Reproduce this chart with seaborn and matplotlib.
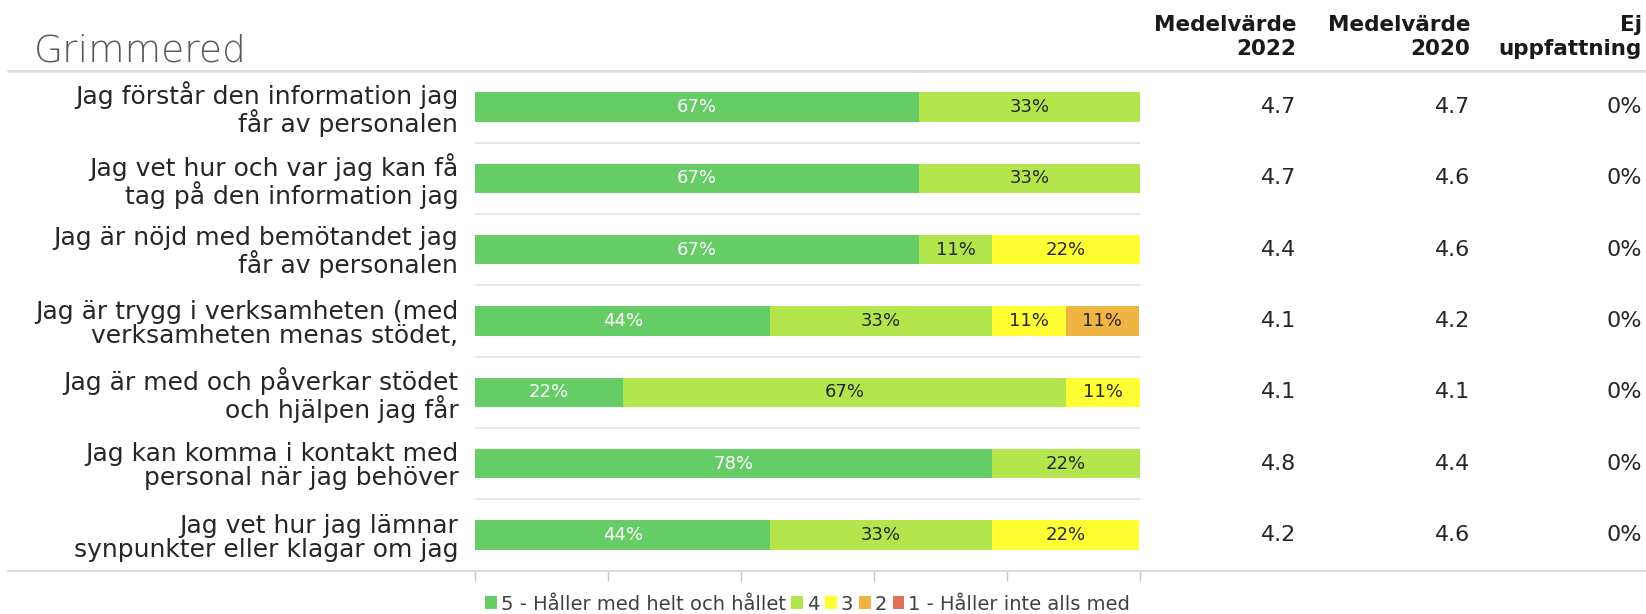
import matplotlib
matplotlib.use("Agg")
import matplotlib.pyplot as plt
import matplotlib.transforms as mtransforms
from matplotlib.lines import Line2D
from matplotlib.patches import Patch
import seaborn as sns
import pandas as pd

# ---------------- data ----------------
title = "Grimmered"
questions = [
    "Jag förstår den information jag\nfår av personalen",
    "Jag vet hur och var jag kan få\ntag på den information jag",
    "Jag är nöjd med bemötandet jag\nfår av personalen",
    "Jag är trygg i verksamheten (med\nverksamheten menas stödet,",
    "Jag är med och påverkar stödet\noch hjälpen jag får",
    "Jag kan komma i kontakt med\npersonal när jag behöver",
    "Jag vet hur jag lämnar\nsynpunkter eller klagar om jag",
]
series_names = ["5 - Håller med helt och hållet", "4", "3", "2", "1 - Håller inte alls med"]
s5 = [66.7, 66.7, 66.7, 44.4, 22.2, 77.8, 44.4]
s4 = [33.3, 33.3, 11.1, 33.3, 66.7, 22.2, 33.3]
s3 = [0.0, 0.0, 22.2, 11.1, 11.1, 0.0, 22.2]
s2 = [0.0, 0.0, 0.0, 11.1, 0.0, 0.0, 0.0]
s1 = [0.0, 0.0, 0.0, 0.0, 0.0, 0.0, 0.0]
mean_2022 = [4.7, 4.7, 4.4, 4.1, 4.1, 4.8, 4.2]
mean_2020 = [4.7, 4.6, 4.6, 4.2, 4.1, 4.4, 4.6]
no_opinion = [0, 0, 0, 0, 0, 0, 0]
col_headers = ["Medelvärde\n2022", "Medelvärde\n2020", "Ej\nuppfattning"]
x_ticks = [0, 20, 40, 60, 80, 100]

# ---------------- style ----------------
colors = ["#66CC66", "#B3E64D", "#FFFF33", "#F0B443", "#E0705A"]
label_colors = ["white", "#262626", "#262626", "#262626", "#262626"]
TXT = "#262626"

sns.set_theme(style="white")
plt.rcParams["font.family"] = ["DejaVu Sans"]

W, H = 1646, 614
fig = plt.figure(figsize=(W / 100, H / 100), dpi=100)
ax_left, ax_right = 475 / W, 1140 / W
ax_top, ax_bot = 71.3 / H, 570.7 / H
ax = fig.add_axes([ax_left, 1 - ax_bot, ax_right - ax_left, ax_bot - ax_top])

series = [s5, s4, s3, s2, s1]
df = pd.DataFrame({"question": questions})
for name, vals in zip(series_names, series):
    df[name] = vals
cum = df[series_names].cumsum(axis=1)

# draw cumulative bars from the longest to the shortest (stacked look)
for k in range(len(series_names) - 1, -1, -1):
    sns.barplot(data=cum.assign(question=questions), x=series_names[k], y="question",
                order=questions, orient="h", color=colors[k], saturation=1,
                width=0.41, linewidth=0, ax=ax)

# value labels inside the segments
for k, name in enumerate(series_names):
    for i, q in enumerate(questions):
        v = df.loc[i, name]
        if v > 0:
            start = cum.loc[i, name] - v
            ax.text(start + v / 2, i, f"{round(v)}%", ha="center", va="center",
                    fontsize=13, color=label_colors[k])

ax.set_xlim(0, 100)
ax.set_ylim(len(questions) - 0.5, -0.5)
ax.set_xlabel("")
ax.set_ylabel("")
ax.set_xticks(x_ticks)
ax.set_xticklabels([])
ax.tick_params(axis="x", bottom=True, length=7, width=1, color="#c8c8c8", direction="out")
ax.tick_params(axis="y", left=False, length=0, pad=12, labelsize=18, labelcolor=TXT)
for lab in ax.get_yticklabels():
    lab.set_linespacing(1.0)
for sp in ["top", "right", "left", "bottom"]:
    ax.spines[sp].set_visible(False)

# separators between rows
for i in range(len(questions) - 1):
    ax.axhline(i + 0.5, color="#e3e3e3", lw=1.2, zorder=0)

# full-width header and bottom lines
fig.add_artist(Line2D([8 / W, 1], [1 - 71.3 / H] * 2, transform=fig.transFigure,
                      color="#dcdcdc", lw=2))
fig.add_artist(Line2D([8 / W, 1], [1 - 570.7 / H] * 2, transform=fig.transFigure,
                      color="#dcdcdc", lw=1.5))

# title
fig.text(34 / W, 1 - 62 / H, title, fontsize=27, color="#595959",
         fontweight="light", ha="left", va="baseline")

# right-hand columns
col_x = [1296 / W, 1470 / W, 1642 / W]
trans = mtransforms.blended_transform_factory(fig.transFigure, ax.transData)
col_vals = [[f"{v:.1f}" for v in mean_2022], [f"{v:.1f}" for v in mean_2020],
            [f"{v}%" for v in no_opinion]]
for x, hdr, vals in zip(col_x, col_headers, col_vals):
    fig.text(x, 1 - 37 / H, hdr, ha="right", va="center", fontsize=15.5,
             fontweight="bold", color="#1a1a1a", linespacing=1.3)
    for i, t in enumerate(vals):
        ax.text(x, i, t, transform=trans, ha="right", va="center",
                fontsize=16, color=TXT, clip_on=False)

# legend
handles = [Patch(facecolor=c, edgecolor="none") for c in colors]
fig.legend(handles, series_names, loc="center", ncol=5,
           bbox_to_anchor=((ax_left + ax_right) / 2, 1 - 604 / H),
           frameon=False, fontsize=14, handlelength=0.6, handleheight=0.6,
           handletextpad=0.2, columnspacing=0.3, labelcolor="#404040")

fig.savefig("out.png", dpi=100)
